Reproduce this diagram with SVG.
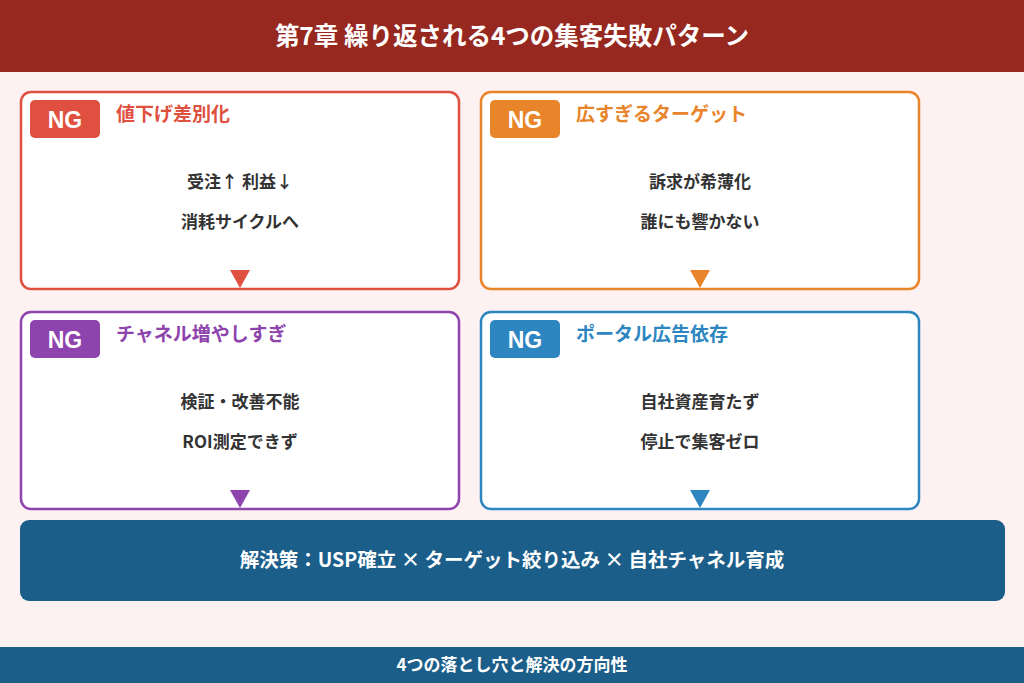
<svg xmlns="http://www.w3.org/2000/svg" width="1024" height="683" viewBox="0 0 1024 683">
<style>
text{font-family:"Noto Sans CJK JP","Noto Sans",sans-serif;font-weight:bold}
.card{fill:#fff;stroke-width:2.5}
.badge{font-family:"Liberation Sans","Noto Sans",sans-serif;font-size:23px;fill:#fff;text-anchor:middle}
.title{font-size:19px}
.body{font-size:17px;fill:#333;text-anchor:middle}
</style>
<rect width="1024" height="683" fill="#fdf2f1"/>
<rect width="1024" height="72" fill="#962820"/>
<text x="512" y="45" font-size="24.5" fill="#fff" text-anchor="middle">第7章 繰り返される4つの集客失敗パターン</text>
<g id="n1">
<rect class="card" x="21" y="92" width="438" height="197" rx="10" stroke="#e05040"/>
<rect x="30" y="100" width="70" height="38" rx="5" fill="#e05040"/>
<text class="badge" x="65" y="128">NG</text>
<text class="title" x="116" y="121" fill="#e05040">値下げ差別化</text>
<text class="body" x="240" y="188">受注↑ 利益↓</text>
<text class="body" x="240" y="228">消耗サイクルへ</text>
<path d="M230 270h20l-10 18z" fill="#e05040"/>
</g>
<g id="n2">
<rect class="card" x="481" y="92" width="438" height="197" rx="10" stroke="#e8842a"/>
<rect x="490" y="100" width="70" height="38" rx="5" fill="#e8842a"/>
<text class="badge" x="525" y="128">NG</text>
<text class="title" x="576" y="121" fill="#e8842a">広すぎるターゲット</text>
<text class="body" x="700" y="188">訴求が希薄化</text>
<text class="body" x="700" y="228">誰にも響かない</text>
<path d="M690 270h20l-10 18z" fill="#e8842a"/>
</g>
<g id="n3">
<rect class="card" x="21" y="312" width="438" height="197" rx="10" stroke="#8e44ad"/>
<rect x="30" y="320" width="70" height="38" rx="5" fill="#8e44ad"/>
<text class="badge" x="65" y="348">NG</text>
<text class="title" x="116" y="341" fill="#8e44ad">チャネル増やしすぎ</text>
<text class="body" x="240" y="408">検証・改善不能</text>
<text class="body" x="240" y="448">ROI測定できず</text>
<path d="M230 490h20l-10 18z" fill="#8e44ad"/>
</g>
<g id="n4">
<rect class="card" x="481" y="312" width="438" height="197" rx="10" stroke="#2e86c1"/>
<rect x="490" y="320" width="70" height="38" rx="5" fill="#2e86c1"/>
<text class="badge" x="525" y="348">NG</text>
<text class="title" x="576" y="341" fill="#2e86c1">ポータル広告依存</text>
<text class="body" x="700" y="408">自社資産育たず</text>
<text class="body" x="700" y="448">停止で集客ゼロ</text>
<path d="M690 490h20l-10 18z" fill="#2e86c1"/>
</g>
<g id="solution">
<rect x="20" y="520" width="985" height="81" rx="9" fill="#1b5e8a"/>
<text x="512" y="567" font-size="19.5" fill="#fff" text-anchor="middle">解決策：USP確立 × ターゲット絞り込み × 自社チャネル育成</text>
</g>
<g id="connectors"/>
<rect y="647" width="1024" height="36" fill="#1b5e8a"/>
<text x="512" y="671" font-size="17" fill="#fff" text-anchor="middle">4つの落とし穴と解決の方向性</text>
</svg>
